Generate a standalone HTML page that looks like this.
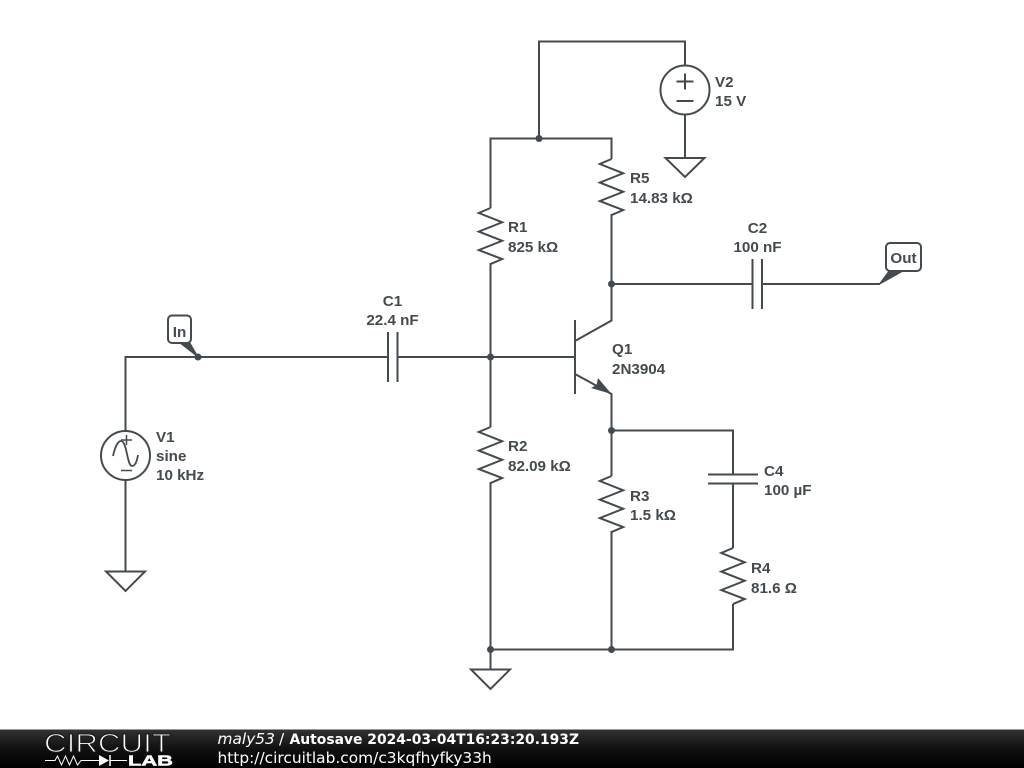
<!DOCTYPE html>
<html><head><meta charset="utf-8">
<style>
html,body{margin:0;padding:0;background:#fff;width:1024px;height:768px;overflow:hidden}
svg{display:block}
.w{fill:none;stroke:#434b4f;stroke-width:2;stroke-linejoin:miter}
.t{font-family:"Liberation Sans",sans-serif;font-size:15.2px;font-weight:bold;fill:#434b4f}
.f{font-family:"DejaVu Sans",sans-serif;font-size:15.4px;fill:#fff}
</style></head>
<body>
<svg width="1024" height="768" viewBox="0 0 1024 768" xmlns="http://www.w3.org/2000/svg">
<defs>
<linearGradient id="bar" x1="0" y1="0" x2="0" y2="1"><stop offset="0" stop-color="#333"/><stop offset="0.5" stop-color="#111"/><stop offset="1" stop-color="#000"/></linearGradient>
</defs>
<rect width="1024" height="768" fill="#fff"/>

<!-- wires -->
<path class="w" d="M539 138V41.500H685V66"/>
<path class="w" d="M685 115V157"/>
<path class="w" d="M490.500 208V138.500H611.500V159"/>
<path class="w" d="M611.500 214V284V320.500L575 341"/>
<path class="w" d="M611.500 284H752"/>
<path class="w" d="M762 284H880"/>
<path class="w" d="M125.500 432V357H388"/>
<path class="w" d="M397.500 357H575"/>
<path class="w" d="M125.500 480V571"/>
<path class="w" d="M490.500 263V427"/>
<path class="w" d="M490.500 482V669"/>
<path class="w" d="M575 374L611.500 394V476"/>
<path class="w" d="M611.500 430.500H733V475"/>
<path class="w" d="M733 484V548"/>
<path class="w" d="M611.500 531V649"/>
<path class="w" d="M733 604V649.500H490.500"/>

<!-- transistor -->
<path class="w" d="M575 320V394"/>
<path d="M611.500 394L591 388L596.500 385L598 378Z" fill="#434b4f"/>

<!-- capacitors -->
<path class="w" d="M388 332V382M397.500 332V382"/>
<path class="w" d="M752.500 259V309M762 259V309"/>
<path class="w" d="M708 474.500H758M708 483.500H758"/>

<!-- resistors -->
<path class="w" d="M611.500 159l-11.700 5 23.400 9.300-23.400 9.300 23.400 9.200-23.400 9.300 23.400 9-11.700 5"/>
<path class="w" d="M490.500 208l-11.700 5 23.400 9.300-23.400 9.300 23.400 9.200-23.400 9.300 23.400 9-11.700 5"/>
<path class="w" d="M490.500 427l-11.700 5 23.400 9.300-23.400 9.300 23.400 9.200-23.400 9.300 23.400 9-11.700 5"/>
<path class="w" d="M611.500 476l-11.700 5 23.400 9.300-23.400 9.300 23.400 9.200-23.400 9.300 23.400 9-11.700 5"/>
<path class="w" d="M733 548l-11.700 5 23.400 9.300-23.400 9.300 23.400 9.200-23.400 9.300 23.400 9-11.700 5"/>

<!-- sources -->
<circle class="w" cx="685" cy="90" r="24.500"/>
<path class="w" d="M676.500 81.500H693.500M685 73.500V89.500M676.500 101H693.500"/>
<circle class="w" cx="125.500" cy="455.500" r="24.500"/>
<path class="w" stroke-width="1.500" style="stroke-width:1.500px" d="M121 440H132M126.500 435V445M121 470.500H132"/>
<path class="w" style="stroke-width:1.800px" d="M113 456C115 447 118 441 121 441C127 441 127 466 132 466C135 466 137 461 138 455"/>

<!-- grounds -->
<path class="w" d="M665.500 158H704.500L685 177Z"/>
<path class="w" d="M106 571.500H145L125.500 591Z"/>
<path class="w" d="M471 669.500H510L490.500 689Z"/>

<!-- dots -->
<g fill="#434b4f">
<circle cx="539" cy="138.500" r="3.500"/>
<circle cx="611.500" cy="284" r="3.500"/>
<circle cx="490.500" cy="357" r="3.500"/>
<circle cx="611.500" cy="430.500" r="3.500"/>
<circle cx="490.500" cy="649.500" r="3.500"/>
<circle cx="611.500" cy="649.500" r="3.500"/>
<circle cx="198" cy="357" r="3.500"/>
</g>

<!-- flags -->
<path d="M198 357L180 343L190 343Z" fill="#434b4f" stroke="#434b4f"/>
<rect x="168" y="315.500" width="23" height="27.500" rx="4" fill="#fff" stroke="#434b4f" stroke-width="2"/>
<text class="t" x="179.500" y="337" text-anchor="middle">In</text>
<path d="M879 284.500L889 271L903 271Z" fill="#434b4f" stroke="#434b4f"/>
<rect x="886" y="243" width="35" height="28" rx="4" fill="#fff" stroke="#434b4f" stroke-width="2"/>
<text class="t" x="903.500" y="263" text-anchor="middle">Out</text>

<!-- labels -->
<text class="t" x="715" y="87">V2</text><text class="t" x="715" y="106">15 V</text>
<text class="t" x="630" y="183">R5</text><text class="t" x="630" y="203">14.83 kΩ</text>
<text class="t" x="508" y="232">R1</text><text class="t" x="508" y="252">825 kΩ</text>
<text class="t" x="757.500" y="233" text-anchor="middle">C2</text><text class="t" x="757.500" y="252" text-anchor="middle">100 nF</text>
<text class="t" x="392.500" y="306" text-anchor="middle">C1</text><text class="t" x="392.500" y="325" text-anchor="middle">22.4 nF</text>
<text class="t" x="612" y="354">Q1</text><text class="t" x="612" y="374">2N3904</text>
<text class="t" x="156" y="442">V1</text><text class="t" x="156" y="461">sine</text><text class="t" x="156" y="480">10 kHz</text>
<text class="t" x="508" y="451">R2</text><text class="t" x="508" y="471">82.09 kΩ</text>
<text class="t" x="630" y="501">R3</text><text class="t" x="630" y="520">1.5 kΩ</text>
<text class="t" x="764" y="476">C4</text><text class="t" x="764" y="495">100 µF</text>
<text class="t" x="751" y="573">R4</text><text class="t" x="751" y="593">81.6 Ω</text>

<!-- footer -->
<rect x="0" y="729" width="1024" height="39" fill="url(#bar)"/>
<rect x="0" y="729" width="1024" height="1" fill="#999"/>
<text x="44" y="752" font-family="Liberation Sans,sans-serif" font-size="26" fill="#fff" stroke="#1a1a1a" stroke-width="1.100" textLength="127" lengthAdjust="spacingAndGlyphs">CIRCUIT</text>
<path d="M45 760.500H55l2.500-4.500 4 9 4-9 4 9 4-9 4 9 3.500-4.500H99M110 760.500H127" fill="none" stroke="#fff" stroke-width="1"/>
<path d="M99 755L109 760.500L99 766Z" fill="#fff"/>
<path d="M110 755V766" stroke="#fff" stroke-width="1.500"/>
<text x="128" y="765.500" font-family="Liberation Sans,sans-serif" font-size="14.500" font-weight="bold" fill="#fff" stroke="#fff" stroke-width="0.500" textLength="45" lengthAdjust="spacingAndGlyphs">LAB</text>
<text class="f" x="217.500" y="744" font-style="italic">maly53</text>
<text class="f" x="279" y="744">/</text>
<text class="f" x="289.500" y="744" font-weight="bold" style="font-size:13.900px">Autosave 2024-03-04T16:23:20.193Z</text>
<text class="f" x="217.500" y="763">http://circuitlab.com/c3kqfhyfky33h</text>
</svg>
</body></html>
